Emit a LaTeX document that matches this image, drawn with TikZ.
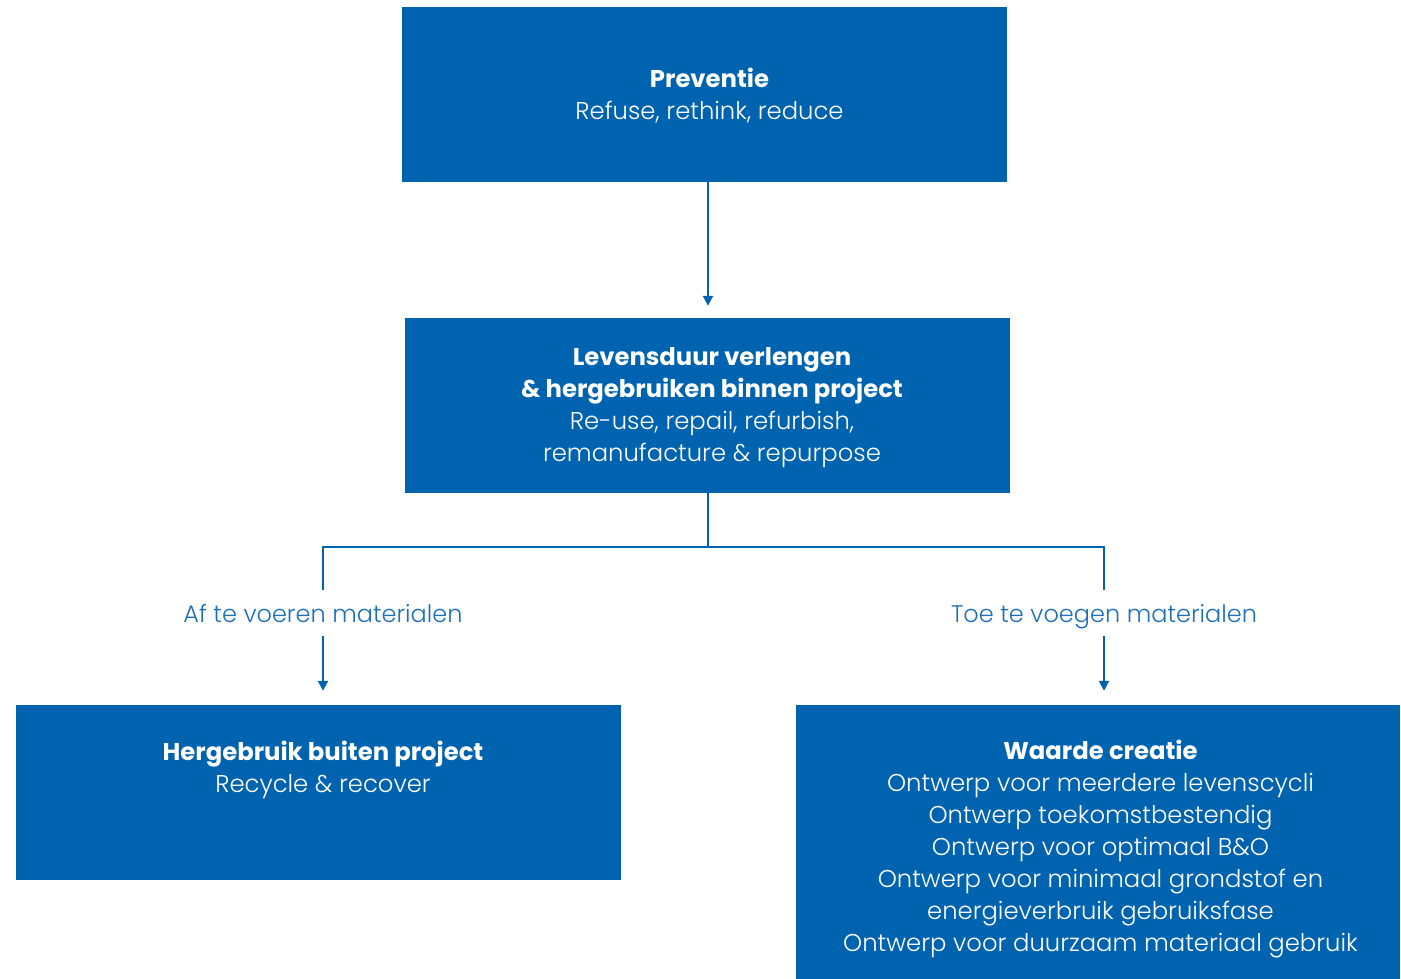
\documentclass[tikz,border=0pt]{standalone}
\usepackage{fontspec}
\setmainfont{Poppins}[UprightFont=* Light, BoldFont=* Bold]
\usetikzlibrary{arrows.meta}
\definecolor{cblue}{HTML}{0063AF}
\definecolor{lblue}{HTML}{1E6FB8}
\tikzset{
  box/.style={fill=cblue, draw=none, inner sep=0pt, minimum width=605pt, minimum height=175pt},
  txt/.style={text=white, align=center, font=\fontsize{24.3}{32}\selectfont, inner sep=0pt},
  lab/.style={text=lblue, font=\fontsize{24}{32}\selectfont, inner sep=0pt, text height=21pt, text depth=2pt, minimum height=46pt},
  conn/.style={draw=cblue, line width=2pt},
  arr/.style={conn, -{Triangle[length=10pt,width=10pt]}},
}
\begin{document}
\begin{tikzpicture}[x=1pt,y=-1pt]
\useasboundingbox (0,0) rectangle (1401,979);
% boxes
\node[box] (prev) at (704.5,94.5) {};
\node[box] (lev) at (707.5,405.5) {};
\node[box] (herg) at (318.5,792.5) {};
\node[box, minimum width=604pt, minimum height=274pt] (waar) at (1098,842) {};
% texts
\node[txt] (prevt) at (709.5,96) {\textbf{Preventie}\\Refuse, rethink, reduce};
\node[txt] (levt) at (712,407.5) {\textbf{Levensduur verlengen}\\\textbf{\& hergebruiken binnen project}\\Re-use, repail, refurbish,\\remanufacture \& repurpose};
\node[txt] (hergt) at (323,769.5) {\textbf{Hergebruik buiten project}\\Recycle \& recover};
\node[txt] (waart) at (1100.5,849.5) {\textbf{Waarde creatie}\\Ontwerp voor meerdere levenscycli\\Ontwerp toekomstbestendig\\Ontwerp voor optimaal B\&O\\Ontwerp voor minimaal grondstof en\\energieverbruik gebruiksfase\\Ontwerp voor duurzaam materiaal gebruik};
% labels
\node[lab] (lab1) at (323,613) {Af te voeren materialen};
\node[lab] (lab2) at (1104,613) {Toe te voegen materialen};
% coordinates
\coordinate (cx) at (708,0);
\coordinate (split) at (708,547);
\coordinate (lc) at (323,547);
\coordinate (rc) at (1104,547);
% connectors
\draw[arr, shorten >=12pt] (prev.south -| cx) -- (lev.north -| cx);
\draw[conn] (lev.south -| cx) -- (split);
\draw[conn] (lc |- lab1.north) -- (lc) -- (rc) -- (rc |- lab2.north);
\draw[arr, shorten >=14pt] (lab1.south) -- (herg.north -| lab1.south);
\draw[arr, shorten >=14pt] (lab2.south) -- (waar.north -| lab2.south);
\end{tikzpicture}
\end{document}
